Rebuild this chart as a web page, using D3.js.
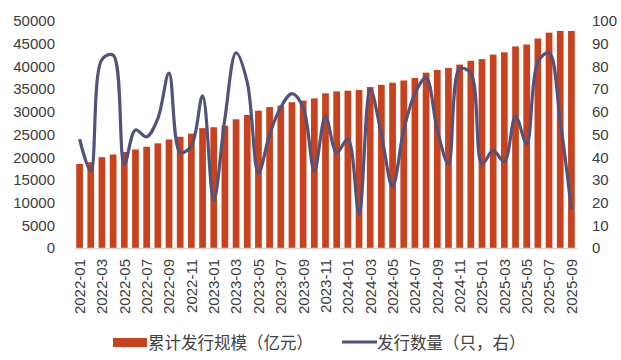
<!DOCTYPE html>
<html><head><meta charset="utf-8">
<script src="https://cdn.jsdelivr.net/npm/d3@7"></script>
<style>
body{margin:0;background:#fff;}
svg{display:block;font-family:"Liberation Sans",Arial,sans-serif;}
</style></head>
<body>
<svg id="c" width="621" height="360"></svg>
<script>
const categories = ["2022-01","2022-02","2022-03","2022-04","2022-05","2022-06","2022-07","2022-08","2022-09","2022-10","2022-11","2022-12",
"2023-01","2023-02","2023-03","2023-04","2023-05","2023-06","2023-07","2023-08","2023-09","2023-10","2023-11","2023-12",
"2024-01","2024-02","2024-03","2024-04","2024-05","2024-06","2024-07","2024-08","2024-09","2024-10","2024-11","2024-12",
"2025-01","2025-02","2025-03","2025-04","2025-05","2025-06","2025-07","2025-08","2025-09"];
const scaleValues = [18500,18900,20000,20600,21150,21700,22300,23050,23900,24500,25200,26400,26600,26950,28350,29300,30250,31050,31400,32100,32450,32950,34070,34500,34650,34800,35450,35950,36400,36900,37450,38620,39200,39650,40400,41230,41600,42600,43100,44400,44820,46150,47430,47800,47800];
const countValues = [48,34,83,85,37,52,49,57,77,42,45,67,21,57,86,73,33,50,62,68,62,34,58,42,48,15,70,50,27,52,68,75,52,37,79,77,37,43,38,58,46,82,86,56,17];
const leftTicks = [0,5000,10000,15000,20000,25000,30000,35000,40000,45000,50000];
const rightTicks = [0,10,20,30,40,50,60,70,80,90,100];
const seriesNames = ["累计发行规模（亿元）","发行数量（只，右）"];

const svg = d3.select("#c");
const barColor = "#C8421E", lineColor = "#52527A", textColor = "#3c3c3c";
const x = d3.scaleBand().domain(categories).range([74,577]).paddingInner(0.4).paddingOuter(0.2);
const yL = d3.scaleLinear().domain([0,50000]).range([248,21]);
const yR = d3.scaleLinear().domain([0,100]).range([248,21]);

// bars
svg.append("g").selectAll("rect").data(scaleValues).join("rect")
  .attr("x",(d,i)=>x(categories[i])).attr("width",x.bandwidth())
  .attr("y",d=>yL(d)).attr("height",d=>yL(0)-yL(d)).attr("fill",barColor);

// x axis
const xAxis = d3.axisBottom(x).tickValues(categories.filter((d,i)=>i%2===0)).tickSize(0).tickPadding(0);
const gx = svg.append("g").attr("transform","translate(0,248)").call(xAxis);
gx.select(".domain").attr("stroke","#d9d9d9").attr("stroke-width",1.5);
gx.selectAll("text").attr("transform","rotate(-90)").attr("text-anchor","end")
  .attr("x",-11).attr("y",0).attr("dy","0.36em")
  .attr("font-size",15).attr("fill",textColor).attr("font-family","Liberation Sans, Arial, sans-serif");

// left axis
const gl = svg.append("g").attr("transform","translate(74,0)")
  .call(d3.axisLeft(yL).tickValues(leftTicks).tickSize(0).tickPadding(19).tickFormat(d3.format("d")));
gl.select(".domain").remove();
gl.selectAll("text").attr("font-size",15).attr("fill",textColor).attr("font-family","Liberation Sans, Arial, sans-serif");

// right axis
const gr = svg.append("g").attr("transform","translate(577,0)")
  .call(d3.axisRight(yR).tickValues(rightTicks).tickSize(0).tickPadding(15).tickFormat(d3.format("d")));
gr.select(".domain").remove();
gr.selectAll("text").attr("font-size",15).attr("fill",textColor).attr("font-family","Liberation Sans, Arial, sans-serif");

// line
const line = d3.line().x((d,i)=>x(categories[i])+x.bandwidth()/2).y(d=>yR(d)).curve(d3.curveCatmullRom.alpha(0.5));
svg.append("path").datum(countValues).attr("d",line).attr("fill","none")
  .attr("stroke",lineColor).attr("stroke-width",3.2).attr("stroke-linejoin","round");

// legend
const lg = svg.append("g").attr("font-family","Noto Sans CJK SC, sans-serif").attr("font-size",16.5).attr("fill","#404040");
lg.append("rect").attr("x",113).attr("y",338).attr("width",34).attr("height",9).attr("fill",barColor);
lg.append("text").attr("x",148).attr("y",343).attr("dy","0.36em").text(seriesNames[0]);
lg.append("line").attr("x1",342).attr("x2",377).attr("y1",342).attr("y2",342).attr("stroke",lineColor).attr("stroke-width",3);
lg.append("text").attr("x",377).attr("y",343).attr("dy","0.36em").text(seriesNames[1]);
</script>
</body></html>
